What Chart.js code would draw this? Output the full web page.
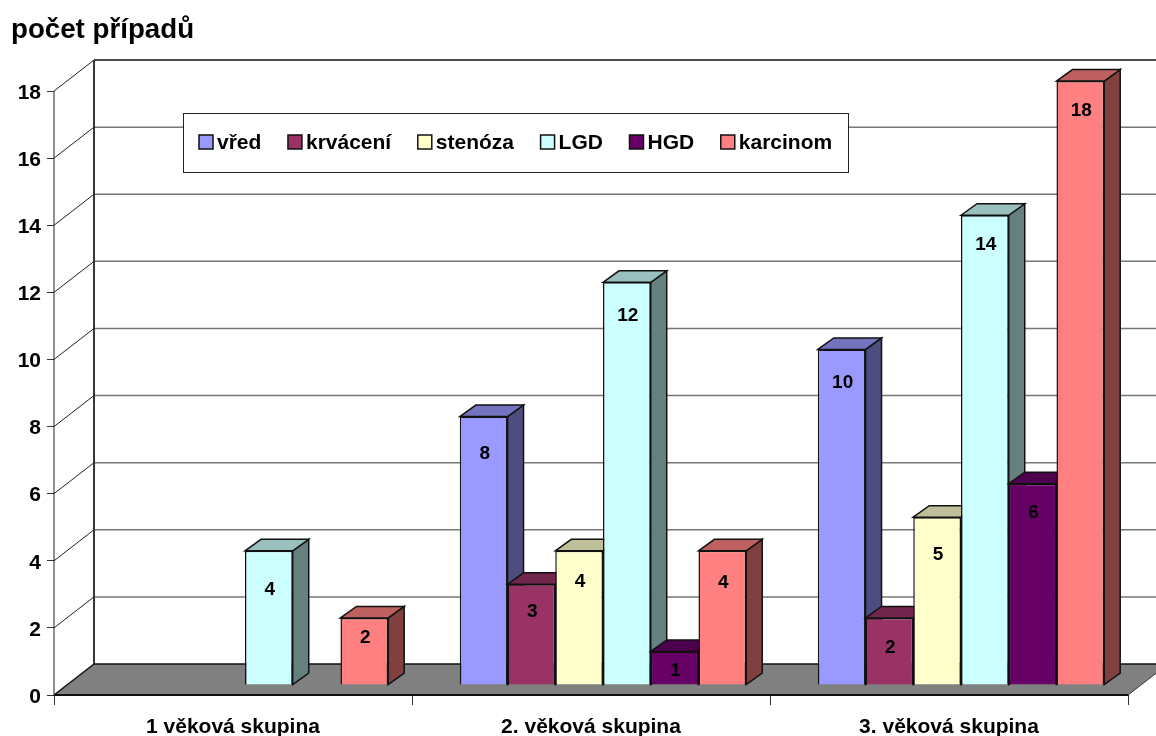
<!DOCTYPE html>
<html>
<head>
<meta charset="utf-8">
<title>počet případů</title>
<style>
  html, body { margin: 0; padding: 0; background: #fff; }
  canvas { display: block; }
</style>
<script src="https://cdn.jsdelivr.net/npm/chart.js@4/dist/chart.umd.min.js"></script>
</head>
<body>
<canvas id="canvas-1" width="1156" height="736"></canvas>
<script>
  var categories = ['1 věková skupina', '2. věková skupina', '3. věková skupina'];
  var seriesNames = ['vřed', 'krvácení', 'stenóza', 'LGD', 'HGD', 'karcinom'];

  var vred = [null, 8, 10];
  var krvaceni = [null, 3, 2];
  var stenoza = [null, 4, 5];
  var lgd = [4, 12, 14];
  var hgd = [null, 1, 6];
  var karcinom = [2, 4, 18];

  var seriesValues = [vred, krvaceni, stenoza, lgd, hgd, karcinom];

  var frontColors = ['#9999FF', '#993366', '#FFFFCC', '#CCFFFF', '#660066', '#FF8080'];
  var topColors = ['#7373BF', '#73264D', '#BFBF99', '#99BFBF', '#4D004D', '#BF6060'];
  var sideColors = ['#4D4D80', '#4D1A33', '#808066', '#668080', '#330033', '#804040'];

  // how far each value label sits under the top edge of its bar
  var labelDrop = [
    [0, 35, 31],
    [0, 25, 28],
    [0, 29, 36],
    [37, 31, 28],
    [0, 17, 27],
    [18, 30, 28]
  ];

  var FONT = '"Liberation Sans", Arial, sans-serif';
  var wall = { dx: 40, dy: -31 };     // depth of the whole box
  var shift = { dx: 12, dy: -10 };    // bars stand this far back on the floor
  var depth = { dx: 16, dy: -11.5 };  // depth of a single bar

  var datasets = seriesNames.map(function (name, i) {
    return {
      label: name,
      data: seriesValues[i],
      backgroundColor: frontColors[i],
      borderColor: '#111',
      borderWidth: 1.5,
      clip: false
    };
  });

  function poly(ctx, points, fill, stroke, width) {
    ctx.beginPath();
    ctx.moveTo(points[0][0], points[0][1]);
    for (var i = 1; i < points.length; i++) {
      ctx.lineTo(points[i][0], points[i][1]);
    }
    ctx.closePath();
    if (fill) {
      ctx.fillStyle = fill;
      ctx.fill();
    }
    if (stroke) {
      ctx.strokeStyle = stroke;
      ctx.lineWidth = width;
      ctx.stroke();
    }
  }

  function line(ctx, x1, y1, x2, y2, color, width) {
    ctx.beginPath();
    ctx.moveTo(x1, y1);
    ctx.lineTo(x2, y2);
    ctx.strokeStyle = color;
    ctx.lineWidth = width;
    ctx.stroke();
  }

  // floor, back wall and side wall of the 3d box
  var boxPlugin = {
    id: 'box3d',
    // value labels on the y axis sit a little under their tick
    afterLayout: function (chart) {
      chart.scales.y.getLabelItems().forEach(function (item) {
        item.textOffset += 2;
      });
    },
    beforeDatasetsDraw: function (chart) {
      var ctx = chart.ctx;
      var area = chart.chartArea;
      var y = chart.scales.y;
      var backX = area.left + wall.dx;
      ctx.save();

      y.ticks.forEach(function (t) {
        var py = y.getPixelForValue(t.value);
        if (t.value > 0) {
          line(ctx, area.left, py, backX, py + wall.dy, '#222', 1);
          line(ctx, backX, py + wall.dy, area.right + wall.dx, py + wall.dy, t.value === y.max ? '#111' : '#777', 1.5);
        }
      });

      poly(ctx, [
        [area.left, area.bottom],
        [backX, area.bottom + wall.dy],
        [area.right + wall.dx, area.bottom + wall.dy],
        [area.right, area.bottom]
      ], '#808080', null, 0);

      line(ctx, area.left, area.top, area.left, area.bottom, '#222', 1);
      line(ctx, backX, area.top + wall.dy, backX, area.bottom + wall.dy, '#222', 1.8);
      line(ctx, area.left, area.bottom, backX, area.bottom + wall.dy, '#111', 1.5);
      line(ctx, backX, area.bottom + wall.dy, area.right + wall.dx, area.bottom + wall.dy, '#111', 1.5);
      line(ctx, area.left, area.bottom, area.right, area.bottom, '#111', 1.8);
      line(ctx, area.right, area.bottom, area.right + wall.dx, area.bottom + wall.dy, '#333', 1);
      ctx.restore();
    }
  };

  // the library paints bars right to left, these have to go left to right so that
  // each bar hides the side of the one before it
  var barPlugin = {
    id: 'bar3d',
    beforeDatasetDraw: function () {
      return false;
    },
    afterDatasetsDraw: function (chart) {
      var ctx = chart.ctx;
      seriesNames.forEach(function (name, i) {
        var meta = chart.getDatasetMeta(i);
        ctx.save();
        ctx.translate(shift.dx, shift.dy);
        meta.data.forEach(function (bar, c) {
          if (seriesValues[i][c] === null) return;
          var p = bar.getProps(['x', 'y', 'base', 'width'], true);
          var l = p.x - p.width / 2;
          var r = p.x + p.width / 2;
          poly(ctx, [
            [r, p.y], [r + depth.dx, p.y + depth.dy],
            [r + depth.dx, p.base + depth.dy], [r, p.base]
          ], sideColors[i], '#111', 1.5);
          poly(ctx, [
            [l, p.y], [l + depth.dx, p.y + depth.dy],
            [r + depth.dx, p.y + depth.dy], [r, p.y]
          ], topColors[i], '#111', 1.5);
        });
        meta.controller.draw();
        ctx.font = 'bold 19px ' + FONT;
        ctx.fillStyle = '#000';
        ctx.textAlign = 'center';
        ctx.textBaseline = 'middle';
        meta.data.forEach(function (bar, c) {
          if (seriesValues[i][c] === null) return;
          var p = bar.getProps(['x', 'y'], true);
          ctx.fillText(String(seriesValues[i][c]), p.x + 1, p.y + labelDrop[i][c] + 2);
        });
        ctx.restore();
      });
    }
  };

  // the boxed legend lies over the back wall, inside the plot
  var legendPlugin = {
    id: 'wallLegend',
    afterDatasetsDraw: function (chart) {
      var ctx = chart.ctx;
      var x = 199;
      ctx.save();
      ctx.fillStyle = '#fff';
      ctx.fillRect(183, 113, 665, 59);
      ctx.strokeStyle = '#222';
      ctx.lineWidth = 1;
      ctx.strokeRect(183.5, 113.5, 665, 59);
      ctx.font = 'bold 21px ' + FONT;
      ctx.textAlign = 'left';
      ctx.textBaseline = 'middle';
      seriesNames.forEach(function (name, i) {
        ctx.fillStyle = frontColors[i];
        ctx.fillRect(x, 135, 14, 14);
        ctx.strokeStyle = '#111';
        ctx.lineWidth = 1.5;
        ctx.strokeRect(x, 135, 14, 14);
        ctx.fillStyle = '#000';
        ctx.fillText(name, x + 18, 143);
        x += 18 + ctx.measureText(name).width + 26.6;
      });
      ctx.restore();
    }
  };

  var ctx = document.getElementById('canvas-1');
  var chart = new Chart(ctx, {
    type: 'bar',
    data: {
      labels: categories,
      datasets: datasets
    },
    plugins: [boxPlugin, barPlugin, legendPlugin],
    options: {
      responsive: false,
      animation: false,
      events: [],
      layout: {
        padding: { left: 11, right: 28, top: 0, bottom: 0 }
      },
      datasets: {
        bar: {
          categoryPercentage: 0.8,
          barPercentage: 1
        }
      },
      scales: {
        x: {
          afterFit: function (scale) { scale.height = 41; },
          border: { display: false },
          grid: { drawOnChartArea: false, tickLength: 10, color: '#333', lineWidth: 1 },
          ticks: {
            color: '#000',
            padding: 10,
            maxRotation: 0,
            font: { family: FONT, size: 21, weight: 'bold' }
          }
        },
        y: {
          min: 0,
          max: 18,
          afterFit: function (scale) { scale.width = 43; },
          border: { display: false },
          grid: { drawOnChartArea: false, tickLength: 7, color: '#333', lineWidth: 1 },
          ticks: {
            stepSize: 2,
            color: '#000',
            padding: 6,
            font: { family: FONT, size: 21, weight: 'bold' }
          }
        }
      },
      plugins: {
        legend: { display: false },
        tooltip: { enabled: false },
        title: {
          display: true,
          text: 'počet případů',
          align: 'start',
          color: '#000',
          font: { family: FONT, size: 27.7, weight: 'bold' },
          padding: { top: 14, bottom: 43.8 }
        }
      }
    }
  });
</script>
</body>
</html>
